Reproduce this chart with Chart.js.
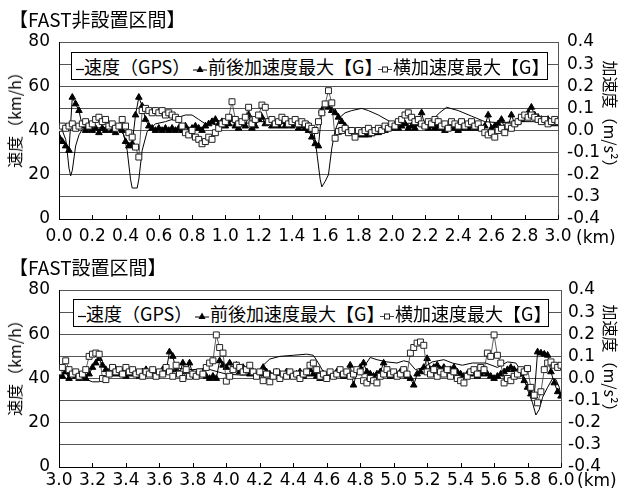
<!DOCTYPE html>
<html>
<head>
<meta charset="utf-8">
<script src="https://cdn.jsdelivr.net/npm/chart.js@4.4.1/dist/chart.umd.min.js"></script>
<style>
body { margin: 0; background: #fff; width: 622px; height: 493px; position: relative; overflow: hidden;
       font-family: "Noto Sans CJK JP", sans-serif; color: #000; }
.panel { position: absolute; left: 0; width: 622px; }
.panel canvas { position: absolute; left: 0; top: 0; }
.title { position: absolute; font-size: 19px; line-height: 1; white-space: nowrap; }
.ytitle { position: absolute; font-size: 16px; line-height: 1; white-space: nowrap; }
.km { position: absolute; font-family: "DejaVu Sans"; font-size: 17px; line-height: 1; }
.legend { position: absolute; box-sizing: border-box; height: 28px; border: 1px solid #000; background: #fff; }
.legend span { position: absolute; top: 1px; font-size: 18px; line-height: 24px; white-space: nowrap; }
.legend .mk { top: 0; line-height: 26px; }
.legend .mk svg { vertical-align: middle; }
</style>
</head>
<body>
<div class="panel" id="p1" style="top:0;height:250px"><canvas id="c1" width="622" height="250"></canvas></div>
<div class="panel" id="p2" style="top:250px;height:243px"><canvas id="c2" width="622" height="243"></canvas></div>
<script>
// Data
const panelTitles = ["【FAST非設置区間】", "【FAST設置区間】"];
const seriesNames = ["速度（GPS）", "前後加速度最大【G】", "横加速度最大【G】"];
const leftTitle = "速度（km/h）";
const rightTitle = "加速度（m/s²）";

// FAST非設置区間 (0.0-3.0 km)
const topSpeedKm = [0.00,0.02,0.04,0.05,0.06,0.07,0.08,0.10,0.12,0.14,0.20,0.30,0.36,0.39,0.41,0.43,0.44,0.47,0.48,0.50,
  0.53,0.58,0.64,0.70,0.76,0.80,0.84,0.88,0.92,0.97,1.00,1.10,1.20,1.30,1.40,1.50,1.53,1.55,1.57,1.58,
  1.60,1.62,1.64,1.66,1.69,1.72,1.76,1.82,1.86,1.92,1.99,2.05,2.15,2.24,2.28,2.33,2.40,2.48,2.56,2.65,
  2.75,2.85,2.95,3.00];
const topSpeed = [41,40,36,30,23,19.5,22,33,38,40.5,41,41.5,41,38,31,18,14,14,18,31,
  39.5,43,44,45.5,47,47,45,43,43,42,42,43,44,44,43.5,44,41,30,18,14.5,
  17,20,32,40,46,48,49,50,49,47,44,43,43.5,44,47.5,50.5,49,46.5,44,43.5,
  44,44,43.5,43];

const topKm = [0.00,0.02,0.04,0.06,0.08,0.10,0.12,0.14,0.16,0.18,0.20,0.22,0.24,0.26,0.28,0.30,0.32,0.34,0.36,0.38,
  0.40,0.42,0.44,0.46,0.48,0.50,0.52,0.54,0.56,0.58,0.60,0.62,0.64,0.66,0.68,0.70,0.72,0.74,0.76,0.78,
  0.80,0.82,0.84,0.86,0.88,0.90,0.92,0.94,0.96,0.98,1.00,1.02,1.04,1.06,1.08,1.10,1.12,1.14,1.16,1.18,
  1.20,1.22,1.24,1.26,1.28,1.30,1.32,1.34,1.36,1.38,1.40,1.42,1.44,1.46,1.48,1.50,1.52,1.54,1.56,1.58,
  1.60,1.62,1.64,1.66,1.68,1.70,1.72,1.74,1.76,1.78,1.80,1.82,1.84,1.86,1.88,1.90,1.92,1.94,1.96,1.98,
  2.00,2.02,2.04,2.06,2.08,2.10,2.12,2.14,2.16,2.18,2.20,2.22,2.24,2.26,2.28,2.30,2.32,2.34,2.36,2.38,
  2.40,2.42,2.44,2.46,2.48,2.50,2.52,2.54,2.56,2.58,2.60,2.62,2.64,2.66,2.68,2.70,2.72,2.74,2.76,2.78,
  2.80,2.82,2.84,2.86,2.88,2.90,2.92,2.94,2.96,2.98,3.00];
const topLong = [-0.03,-0.05,-0.07,-0.09,0.15,0.12,0.09,0.02,0.00,0.01,
  0.00,0.01,-0.01,0.01,0.00,0.02,0.00,-0.01,0.01,0.00,
  -0.05,-0.07,-0.06,0.07,0.15,0.11,0.05,0.02,0.01,0.00,
  0.01,0.00,0.01,0.00,0.01,0.00,0.01,0.00,0.02,0.00,
  0.01,0.02,0.01,0.00,0.02,0.03,0.04,0.05,0.03,0.04,
  0.02,0.03,0.05,0.02,0.01,0.03,0.02,0.07,0.01,0.02,
  0.05,0.06,0.03,0.04,0.02,0.03,0.02,0.04,0.02,0.03,
  0.02,0.03,0.01,0.02,0.01,0.00,-0.03,-0.06,-0.07,0.09,
  0.115,0.105,0.09,0.08,0.06,0.04,0.02,0.00,-0.01,-0.01,
  -0.02,-0.02,-0.02,-0.02,-0.015,-0.01,-0.01,0.00,0.00,0.01,
  0.01,0.02,0.01,0.02,0.03,0.01,0.02,0.01,0.03,0.08,
  0.02,0.01,0.02,0.01,0.02,0.01,0.00,0.01,0.02,0.01,
  0.00,0.01,0.02,0.01,0.02,0.01,0.02,0.01,0.02,0.07,
  0.01,0.02,0.03,0.05,0.01,0.02,0.07,0.03,0.04,0.05,
  0.06,0.08,0.105,0.07,0.06,0.05,0.04,0.05,0.03,0.04,
  0.03];
const topLat = [0.01,0.02,0.01,0.02,0.03,0.01,0.02,0.03,0.04,0.02,
  0.03,0.05,0.06,0.04,0.05,0.02,0.03,0.01,0.02,0.05,
  0.02,-0.01,-0.03,-0.075,-0.12,0.09,0.10,0.09,0.08,0.09,
  0.08,0.09,0.07,0.08,0.07,0.06,0.05,0.02,-0.01,-0.02,
  0.00,-0.03,-0.04,-0.06,-0.05,-0.03,-0.04,-0.01,0.01,0.03,
  0.04,0.06,0.13,0.05,0.03,0.04,0.06,0.105,0.03,0.05,
  0.07,0.115,0.105,0.04,0.05,0.03,0.04,0.06,0.05,0.03,
  0.04,0.05,0.03,0.04,0.03,0.02,0.01,0.00,0.04,0.08,
  0.12,0.18,0.125,-0.035,-0.005,0.00,0.01,-0.01,0.00,-0.03,
  0.00,-0.01,0.00,0.01,-0.01,0.00,0.01,0.00,0.02,0.01,
  0.03,0.02,0.04,0.05,0.07,0.08,0.06,0.04,0.05,0.03,
  0.02,0.04,0.03,0.05,0.04,0.02,0.03,0.01,0.04,0.03,
  0.02,0.04,0.02,0.03,0.04,0.02,0.03,0.01,-0.01,-0.02,
  -0.01,-0.03,0.00,0.01,-0.01,0.02,0.01,0.03,0.04,0.06,
  0.07,0.06,0.07,0.06,0.05,0.04,0.05,0.03,0.04,0.05,
  0.04];

// FAST設置区間 (3.0-6.0 km)
const botSpeedKm = [3.00,3.05,3.10,3.15,3.20,3.24,3.28,3.35,3.45,3.55,3.65,3.72,3.80,3.88,3.95,4.00,4.10,4.18,4.22,4.26,
  4.32,4.40,4.48,4.52,4.55,4.58,4.62,4.70,4.78,4.82,4.86,4.90,4.96,5.02,5.06,5.09,5.13,5.18,5.23,5.30,
  5.35,5.41,5.47,5.55,5.62,5.68,5.73,5.77,5.80,5.83,5.85,5.87,5.89,5.92,5.95,5.97,5.99,6.00];
const botSpeed = [43,42,41,40,38.5,38.5,40.5,42,43,42.5,44,44.5,44,44.5,43,42,41.5,42,46,48.8,
  50,50.5,51,50.5,47,43,41.5,42,42,45,49.5,48.5,47.5,47,48,47.5,44,45,47.5,48.5,
  47,46,47,47,45,47.5,47,42.5,35,29,23.5,26,31.5,36,40,39.5,36,31.5];

const botKm = [3.00,3.02,3.04,3.06,3.08,3.10,3.12,3.14,3.16,3.18,3.20,3.22,3.24,3.26,3.28,3.30,3.32,3.34,3.36,3.38,
  3.40,3.42,3.44,3.46,3.48,3.50,3.52,3.54,3.56,3.58,3.60,3.62,3.64,3.66,3.68,3.70,3.72,3.74,3.76,3.78,
  3.80,3.82,3.84,3.86,3.88,3.90,3.92,3.94,3.96,3.98,4.00,4.02,4.04,4.06,4.08,4.10,4.12,4.14,4.16,4.18,
  4.20,4.22,4.24,4.26,4.28,4.30,4.32,4.34,4.36,4.38,4.40,4.42,4.44,4.46,4.48,4.50,4.52,4.54,4.56,4.58,
  4.60,4.62,4.64,4.66,4.68,4.70,4.72,4.74,4.76,4.78,4.80,4.82,4.84,4.86,4.88,4.90,4.92,4.94,4.96,4.98,
  5.00,5.02,5.04,5.06,5.08,5.10,5.12,5.14,5.16,5.18,5.20,5.22,5.24,5.26,5.28,5.30,5.32,5.34,5.36,5.38,
  5.40,5.42,5.44,5.46,5.48,5.50,5.52,5.54,5.56,5.58,5.60,5.62,5.64,5.66,5.68,5.70,5.72,5.74,5.76,5.78,
  5.80,5.82,5.84,5.86,5.88,5.90,5.92,5.94,5.96,5.98,6.00];
const botLong = [0.02,0.01,0.03,0.00,0.02,0.01,0.00,0.01,0.00,0.02,
  0.05,0.07,0.09,0.06,0.04,0.03,0.02,0.04,0.02,0.03,
  0.01,0.02,0.03,0.02,0.01,0.03,0.04,0.02,0.03,0.01,
  0.02,0.04,0.03,0.12,0.10,0.04,0.02,0.07,0.03,0.07,
  0.02,0.01,0.02,0.03,0.01,0.00,0.01,0.00,0.08,0.06,
  0.05,0.07,0.04,0.06,0.03,0.05,0.04,0.02,0.03,0.01,
  0.02,0.05,0.03,0.02,0.01,0.03,0.02,0.01,0.03,0.02,
  0.01,0.02,0.03,0.01,0.02,0.04,0.02,0.01,0.00,0.02,
  0.01,0.02,0.01,0.03,0.02,0.01,0.02,0.06,-0.03,0.03,
  0.05,0.07,0.03,0.02,0.01,0.02,0.03,0.07,0.02,0.01,
  0.02,0.01,0.03,0.02,0.01,0.00,-0.03,0.02,0.03,0.05,
  0.09,0.04,0.05,0.06,0.04,0.05,0.03,0.04,0.05,0.03,
  0.02,0.01,0.02,0.03,0.02,0.01,0.02,0.03,0.02,0.01,
  0.00,0.01,0.02,0.03,0.04,0.05,0.04,0.03,0.02,-0.01,
  -0.04,-0.07,-0.08,0.12,0.115,0.11,0.105,0.03,-0.02,-0.06,
  -0.08];
const botLat = [0.03,0.05,0.08,0.04,0.02,0.03,0.01,0.02,0.04,0.10,
  0.11,0.115,0.11,0.00,-0.005,0.02,0.05,0.03,0.04,0.02,
  0.05,0.03,0.04,0.02,0.03,0.01,0.03,0.02,0.04,0.01,
  0.03,0.02,0.05,0.03,0.01,0.06,0.02,0.00,0.04,0.01,
  0.02,0.01,0.03,0.02,0.05,0.07,0.08,0.197,0.14,0.115,
  -0.012,0.01,0.04,0.06,0.05,0.03,0.04,0.06,0.03,0.01,
  0.03,-0.01,0.02,-0.015,0.01,0.03,0.00,0.02,0.01,0.03,
  0.01,0.02,0.00,0.02,0.03,0.06,0.07,0.04,0.01,0.02,
  0.00,0.03,0.01,0.02,0.04,0.02,0.03,0.01,0.02,0.04,
  0.03,-0.01,-0.02,0.00,-0.01,-0.02,0.01,0.02,0.04,0.02,
  0.03,0.01,0.02,0.04,0.02,0.115,0.14,0.16,0.165,0.15,
  0.03,0.02,0.04,0.01,0.03,0.02,0.04,0.01,0.03,0.00,
  -0.01,-0.02,0.01,0.03,0.04,0.02,0.05,0.04,0.115,0.10,
  0.197,0.105,0.07,-0.02,0.00,-0.01,0.01,0.02,0.04,0.03,
  0.045,-0.04,-0.075,-0.11,-0.06,0.04,0.07,0.075,0.06,0.05,
  0.06];

const speedTicks = [0, 20, 40, 60, 80];

function pts(xs, ys) { return xs.map((x, i) => ({x: x, y: ys[i]})); }

// small inward tick marks on the distance axis
const innerTicks = {
  id: 'innerTicks',
  afterDatasetsDraw(chart) {
    const {ctx, chartArea, scales} = chart;
    ctx.save();
    ctx.strokeStyle = '#000';
    ctx.lineWidth = 1;
    scales.x.ticks.forEach(t => {
      const px = Math.round(scales.x.getPixelForValue(t.value)) + 0.5;
      ctx.beginPath();
      ctx.moveTo(px, chartArea.bottom);
      ctx.lineTo(px, chartArea.bottom - 4);
      ctx.stroke();
    });
    ctx.restore();
  }
};

Chart.defaults.font.family = 'DejaVu Sans';
Chart.defaults.font.size = 17;
Chart.defaults.color = '#000';

function makeChart(id, o) {
  return new Chart(document.getElementById(id), {
    type: 'line',
    data: {
      datasets: [{
        label: seriesNames[0], yAxisID: 'y', order: 2,
        data: pts(o.speedKm, o.speed),
        borderColor: '#000', borderWidth: 1, pointRadius: 0, tension: 0
      }, {
        label: seriesNames[1], yAxisID: 'y1', order: 1,
        data: pts(o.km, o.long),
        borderColor: '#000', borderWidth: 1, backgroundColor: '#000',
        pointStyle: 'triangle', pointRadius: 3.8, pointBorderWidth: 1
      }, {
        label: seriesNames[2], yAxisID: 'y1', order: 0,
        data: pts(o.km, o.lat),
        borderColor: '#333', borderWidth: 0.8, backgroundColor: '#fff',
        pointStyle: 'rect', pointRadius: 4.2, pointBorderWidth: 1, pointBorderColor: '#222'
      }]
    },
    options: {
      responsive: false, animation: false, devicePixelRatio: 1,
      layout: {padding: {top: o.top, left: 0, right: 0, bottom: 0}},
      plugins: {legend: {display: false}, tooltip: {enabled: false}},
      scales: {
        x: {
          type: 'linear', min: o.xmin, max: o.xmax,
          afterFit: s => { s.height = o.xh; },
          ticks: {stepSize: 0.2, maxRotation: 0, autoSkip: false, padding: o.xpad,
                  callback: v => Number(v).toFixed(1)},
          grid: {drawOnChartArea: false, drawTicks: false},
          border: {color: '#000', width: 1}
        },
        y: {
          position: 'left', min: 0, max: 80,
          afterFit: s => { s.width = 59; },
          ticks: {stepSize: 10, padding: 9, autoSkip: false,
                  callback: v => speedTicks.includes(v) ? String(v) : ''},
          grid: {color: '#555', lineWidth: 1, drawTicks: false},
          border: {color: '#000', width: 1}
        },
        y1: {
          position: 'right', min: -0.4, max: 0.4,
          afterFit: s => { s.width = o.rw; },
          ticks: {stepSize: 0.1, padding: o.rpad, autoSkip: false, callback: v => Number(v).toFixed(1)},
          grid: {drawOnChartArea: false, drawTicks: false},
          border: {color: '#555', width: 1}
        }
      }
    },
    plugins: [innerTicks]
  });
}

makeChart('c1', {speedKm: topSpeedKm, speed: topSpeed, km: topKm, long: topLong, lat: topLat,
  xmin: 0, xmax: 3, top: 42, xh: 31, xpad: 7, rw: 64, rpad: 9});
makeChart('c2', {speedKm: botSpeedKm, speed: botSpeed, km: botKm, long: botLong, lat: botLat,
  xmin: 3, xmax: 6, top: 40, xh: 26, xpad: 3, rw: 61, rpad: 7});

// titles, axis titles, legend
function svgMarker(kind) {
  if (kind === 'line') return '<svg width="8" height="10"><line x1="0" y1="5.5" x2="8" y2="5.5" stroke="#000" stroke-width="1.2"/></svg>';
  if (kind === 'tri') return '<svg width="14" height="10"><line x1="0" y1="6" x2="14" y2="6" stroke="#000" stroke-width="1"/><polygon points="7,1.5 10.5,8 3.5,8" fill="#000"/></svg>';
  return '<svg width="14" height="10"><line x1="0" y1="5.5" x2="14" y2="5.5" stroke="#444" stroke-width="1"/><rect x="4.5" y="3" width="5" height="5" fill="#fff" stroke="#222" stroke-width="1"/></svg>';
}
const legendLayout = [{kind: 'line', mx: 4, tx: 12}, {kind: 'tri', mx: 121, tx: 136}, {kind: 'sq', mx: 306, tx: 321}];

function decorate(panelId, o) {
  const p = document.getElementById(panelId);
  let h = '<div class="title" style="left:' + o.tl + 'px;top:' + o.tt + 'px">' + o.title + '</div>';
  h += '<div class="ytitle" style="left:' + o.lx + 'px;top:' + o.ly + 'px;transform:translate(-50%,-50%) rotate(-90deg)">' + leftTitle + '</div>';
  h += '<div class="ytitle" style="left:' + o.rx + 'px;top:' + o.ry + 'px;transform:translate(-50%,-50%) rotate(90deg)">' + rightTitle + '</div>';
  h += '<div class="km" style="left:' + o.kx + 'px;top:' + o.ky + 'px">(km)</div>';
  h += '<div class="legend" style="left:' + o.bx + 'px;top:' + o.by + 'px;width:' + o.bw + 'px">';
  legendLayout.forEach((it, i) => {
    h += '<span class="mk" style="left:' + it.mx + 'px">' + svgMarker(it.kind) + '</span>';
    h += '<span style="left:' + it.tx + 'px">' + seriesNames[i] + '</span>';
  });
  h += '</div>';
  p.insertAdjacentHTML('beforeend', h);
}

decorate('p1', {title: panelTitles[0], tl: 9, tt: 9, lx: 14, ly: 116, rx: 611, ry: 118,
  kx: 576, ky: 229, bx: 71, by: 52, bw: 477});
decorate('p2', {title: panelTitles[1], tl: 9, tt: 7, lx: 14, ly: 114, rx: 611, ry: 112,
  kx: 577, ky: 222, bx: 73, by: 49, bw: 476});
</script>
</body>
</html>
